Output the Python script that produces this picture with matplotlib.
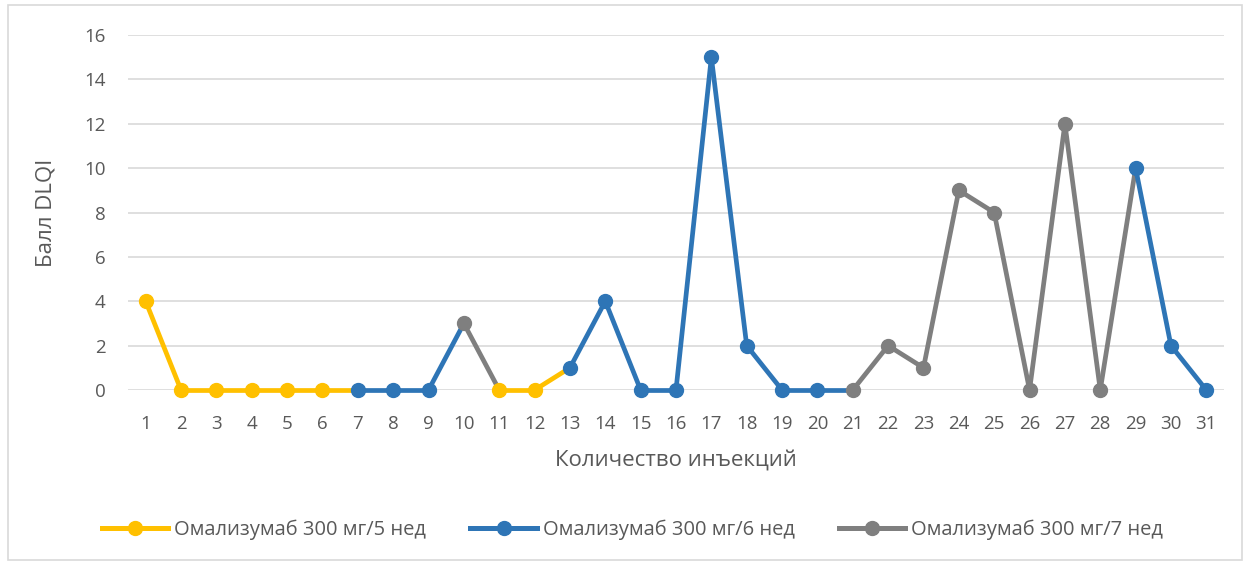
import matplotlib.pyplot as plt
from matplotlib.lines import Line2D
from matplotlib.patches import Rectangle

# Данные
injections = list(range(1, 32))
dlqi = [4, 0, 0, 0, 0, 0, 0, 0, 0, 3, 0, 0, 1, 4, 0, 0, 15, 2, 0, 0,
        0, 2, 1, 9, 8, 0, 12, 0, 10, 2, 0]
# режим дозирования для каждой точки: 5, 6 или 7 недель
regimen = [5, 5, 5, 5, 5, 5, 6, 6, 6, 7, 5, 5, 6, 6, 6, 6, 6, 6, 6, 6,
           7, 7, 7, 7, 7, 7, 7, 7, 6, 6, 6]
series_names = {5: 'Омализумаб 300 мг/5 нед',
                6: 'Омализумаб 300 мг/6 нед',
                7: 'Омализумаб 300 мг/7 нед'}
colors = {5: '#FFC000', 6: '#2E75B6', 7: '#7F7F7F'}

text_color = '#595959'
grid_color = '#D9D9D9'
plt.rcParams['font.family'] = ['Open Sans', 'DejaVu Sans']

fig = plt.figure(figsize=(12.5, 5.65), dpi=100)
ax = fig.add_axes([0.1024, 0.3097, 0.8768, 0.6283])

# отрезки: цвет по начальной точке
for i in range(len(injections) - 1):
    ax.plot(injections[i:i + 2], dlqi[i:i + 2], color=colors[regimen[i]],
            lw=3.4, solid_capstyle='round', zorder=2, clip_on=False)
for x, y, r in zip(injections, dlqi, regimen):
    ax.plot(x, y, 'o', color=colors[r], markersize=10, zorder=3, clip_on=False)

ax.set_xlim(0.5, 31.5)
ax.set_ylim(0, 16)
ax.set_yticks(range(0, 17, 2))
ax.set_xticks(injections)
ax.grid(axis='y', color=grid_color, lw=1.2)
ax.set_axisbelow(True)
for s in ax.spines.values():
    s.set_visible(False)
ax.tick_params(length=0, colors=text_color, labelsize=13.5)
ax.tick_params(axis='x', pad=18)
ax.tick_params(axis='y', pad=16)

ax.set_xlabel('Количество инъекций', color=text_color, fontsize=16, labelpad=12)
ax.set_ylabel('Балл DLQI', color=text_color, fontsize=16, labelpad=20)

handles = [Line2D([0], [0], color=colors[k], lw=3.6, marker='o', markersize=10)
           for k in (5, 6, 7)]
fig.legend(handles, [series_names[k] for k in (5, 6, 7)], loc='center',
           bbox_to_anchor=(0.506, 0.062), ncol=3, frameon=False,
           handlelength=3.3, columnspacing=2.2, handletextpad=0.3,
           labelcolor=text_color, fontsize=14.5)

fig.patches.append(Rectangle((8 / 1250, 5 / 565), 1234 / 1250, 555 / 565,
                             transform=fig.transFigure, fill=False,
                             edgecolor=grid_color, lw=1.2))

fig.savefig('out.png', dpi=100)
